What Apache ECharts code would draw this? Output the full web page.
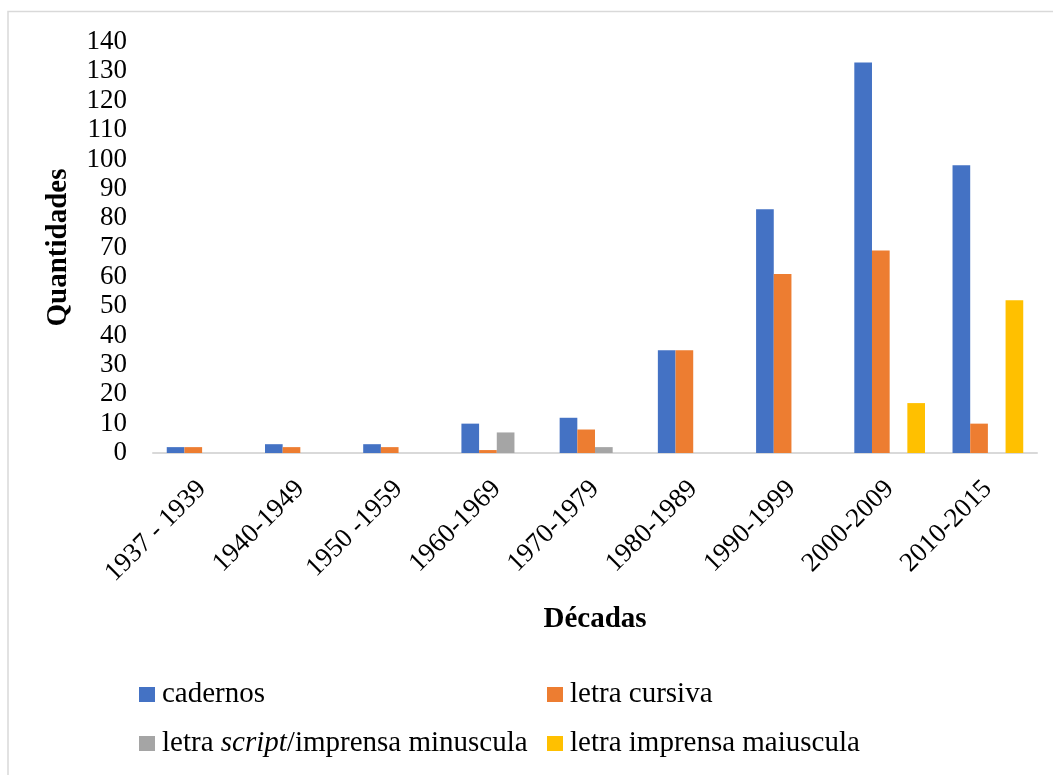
<!DOCTYPE html>
<html>
<head>
<meta charset="utf-8">
<script src="https://cdn.jsdelivr.net/npm/echarts@6/dist/echarts.min.js"></script>
<style>
html,body{margin:0;padding:0;background:#fff;}
#chart{width:1053px;height:775px;}
</style>
</head>
<body>
<div id="chart"></div>
<script>
const categories = ['1937 - 1939','1940-1949','1950 -1959','1960-1969','1970-1979','1980-1989','1990-1999','2000-2009','2010-2015'];
const seriesNames = ['cadernos','letra cursiva','letra script/imprensa minuscula','letra imprensa maiuscula'];
const cadernos = [2,3,3,10,12,35,83,133,98];
const letraCursiva = [2,2,2,1,8,35,61,69,10];
const letraScript = [0,0,0,7,2,0,0,0,0];
const letraMaiuscula = [0,0,0,0,0,0,0,17,52];
const colors = ['#4472C4','#ED7D31','#A5A5A5','#FFC000'];
const yTicks = {min:0, max:140, interval:10};

const FONT = 'Liberation Serif';
const chart = echarts.init(document.getElementById('chart'), null, {renderer:'canvas'});

const LFS = 29;
const legendText = {
  fontFamily: FONT, fontSize: LFS, color: '#000', padding:[0,0,0,2],
  rich: {
    n: {fontFamily: FONT, fontSize: LFS, color:'#000'},
    i: {fontFamily: FONT, fontSize: LFS, fontStyle:'italic', color:'#000'}
  }
};
function mkLegend(name, left, top){
  return {
    data:[name], left:left, top:top, orient:'horizontal', padding:0,
    icon:'rect', itemWidth:16, itemHeight:15, selectedMode:false,
    textStyle: legendText,
    formatter: function(n){
      if (n === seriesNames[2]) return '{n|letra }{i|script}{n|/imprensa minuscula}';
      return '{n|' + n + '}';
    }
  };
}

const dataArrays = [cadernos, letraCursiva, letraScript, letraMaiuscula];

chart.setOption({
  animation:false,
  backgroundColor:'#fff',
  graphic:[{
    type:'rect', shape:{x:8, y:11.5, width:1100, height:800},
    style:{fill:'none', stroke:'#d9d9d9', lineWidth:1.5}, silent:true, z:-1
  }],
  grid:{left:153, right:16, top:42, bottom:322, containLabel:false},
  legend:[
    mkLegend(seriesNames[0], 139, 680),
    mkLegend(seriesNames[1], 547, 680),
    mkLegend(seriesNames[2], 139, 729),
    mkLegend(seriesNames[3], 547, 729)
  ],
  xAxis:{
    type:'category', data:categories,
    axisLine:{show:true, lineStyle:{color:'#d9d9d9', width:2}},
    axisTick:{show:false},
    axisLabel:{rotate:45, interval:0, margin:32, fontFamily:FONT, fontSize:27, color:'#000'},
    name:'Décadas', nameLocation:'middle', nameGap:152,
    nameTextStyle:{fontFamily:FONT, fontSize:29, fontWeight:'bold', color:'#000'}
  },
  yAxis:{
    type:'value', min:yTicks.min, max:yTicks.max, interval:yTicks.interval,
    axisLine:{show:false}, axisTick:{show:false}, splitLine:{show:false},
    axisLabel:{margin:26, fontFamily:FONT, fontSize:27, color:'#000'},
    name:'Quantidades', nameLocation:'middle', nameGap:80, nameRotate:90,
    nameTextStyle:{fontFamily:FONT, fontSize:29, fontWeight:'bold', color:'#000'}
  },
  series: seriesNames.map((n,i)=>({
    name:n, type:'bar', data:dataArrays[i],
    barGap:'0%', barCategoryGap:'28%',
    itemStyle:{color:colors[i]}
  }))
});
</script>
</body>
</html>
